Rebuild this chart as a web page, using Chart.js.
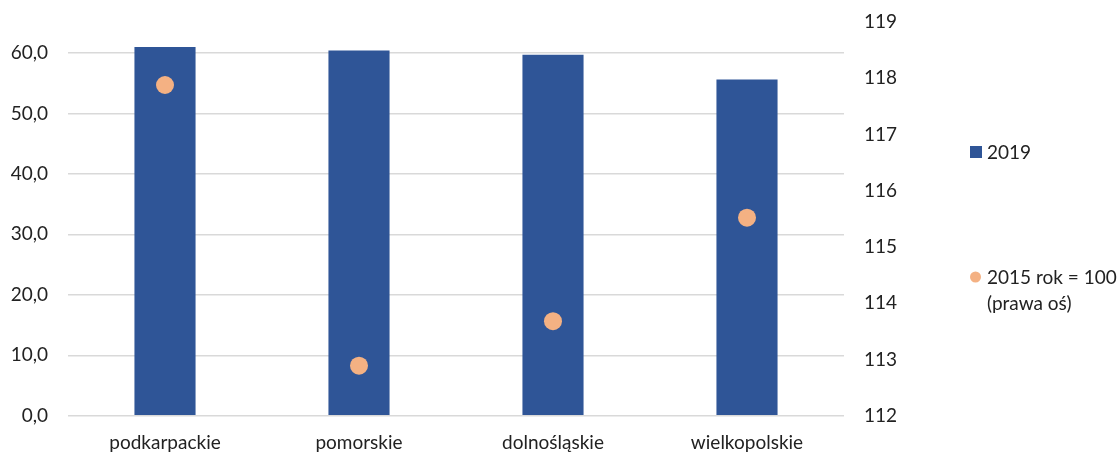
<!DOCTYPE html>
<html>
<head>
<meta charset="utf-8">
<script src="https://cdn.jsdelivr.net/npm/chart.js@4/dist/chart.umd.min.js"></script>
<style>
  html, body { margin: 0; padding: 0; background: #ffffff; }
  #wrap { width: 1117px; height: 453px; position: relative; }
</style>
</head>
<body>
<div id="wrap"><canvas id="c" width="1117" height="453"></canvas></div>
<script>
// Regions shown on the category axis
const regions = ['podkarpackie', 'pomorskie', 'dolnośląskie', 'wielkopolskie'];
// 2019 values (left axis)
const values2019 = [61.0, 60.4, 59.7, 55.6];
// Index, 2015 = 100 (right axis)
const index2015 = [117.88, 112.89, 113.68, 115.52];
// Legend labels
const label2019 = '2019';
const labelIndex = ['2015 rok = 100', '(prawa oś)'];
// Left axis ticks shown
const leftTicks = [0, 10, 20, 30, 40, 50, 60];

const BAR = '#2F5597';
const DOT = '#F4B183';
const TEXT = '#222222';
const FONT = 'Lato, "Open Sans", sans-serif';
const FS = 19;

// Legend drawn in the reserved area to the right of the plot
const sideLegend = {
  id: 'sideLegend',
  afterDraw(chart) {
    const ctx = chart.ctx;
    ctx.save();
    ctx.font = FS + 'px ' + FONT;
    ctx.textBaseline = 'middle';
    ctx.textAlign = 'left';
    // bar series
    ctx.fillStyle = BAR;
    ctx.fillRect(970, 146, 12, 12);
    ctx.fillStyle = TEXT;
    ctx.fillText(chart.data.datasets[0].label, 987, 153);
    // point series
    ctx.fillStyle = DOT;
    ctx.beginPath();
    ctx.arc(975.5, 277, 5.5, 0, Math.PI * 2);
    ctx.fill();
    ctx.fillStyle = TEXT;
    const lines = chart.data.datasets[1].label;
    lines.forEach((t, i) => ctx.fillText(t, 987, 278 + i * 26));
    ctx.restore();
  }
};

new Chart(document.getElementById('c'), {
  data: {
    labels: regions,
    datasets: [
      {
        type: 'bar',
        label: label2019,
        data: values2019,
        backgroundColor: BAR,
        yAxisID: 'y',
        categoryPercentage: 1,
        barPercentage: 0.315,
        order: 1
      },
      {
        type: 'line',
        label: labelIndex,
        data: index2015,
        yAxisID: 'y2',
        showLine: false,
        pointRadius: 9,
        pointHoverRadius: 9,
        pointBackgroundColor: DOT,
        pointBorderWidth: 0,
        borderColor: DOT,
        order: 0
      }
    ]
  },
  options: {
    responsive: false,
    animation: false,
    events: [],
    layout: { padding: { left: 0, right: 213, top: 22, bottom: 0 } },
    plugins: { legend: { display: false }, tooltip: { enabled: false } },
    scales: {
      x: {
        grid: { display: false, drawTicks: false },
        border: { display: false },
        ticks: { color: TEXT, font: { family: FONT, size: FS }, padding: 16 },
        afterFit(s) { s.height = 37.3; }
      },
      y: {
        position: 'left',
        min: 0,
        max: 65.13,
        afterBuildTicks(s) { s.ticks = leftTicks.map(v => ({ value: v })); },
        ticks: {
          color: TEXT,
          font: { family: FONT, size: FS },
          padding: 0,
          callback: v => v.toFixed(1).replace('.', ',')
        },
        grid: {
          color: '#d9d9d9', lineWidth: 1.5,
          drawTicks: true, tickLength: 20, tickColor: 'rgba(0,0,0,0)'
        },
        border: { display: false },
        afterFit(s) { s.width = 68; }
      },
      y2: {
        position: 'right',
        min: 112,
        max: 119,
        ticks: { stepSize: 1, color: TEXT, font: { family: FONT, size: FS }, padding: 0 },
        grid: {
          display: true, drawOnChartArea: false,
          drawTicks: true, tickLength: 20, tickColor: 'rgba(0,0,0,0)', color: 'rgba(0,0,0,0)'
        },
        border: { display: false },
        afterFit(s) { s.width = 60; }
      }
    }
  },
  plugins: [sideLegend]
});
</script>
</body>
</html>
